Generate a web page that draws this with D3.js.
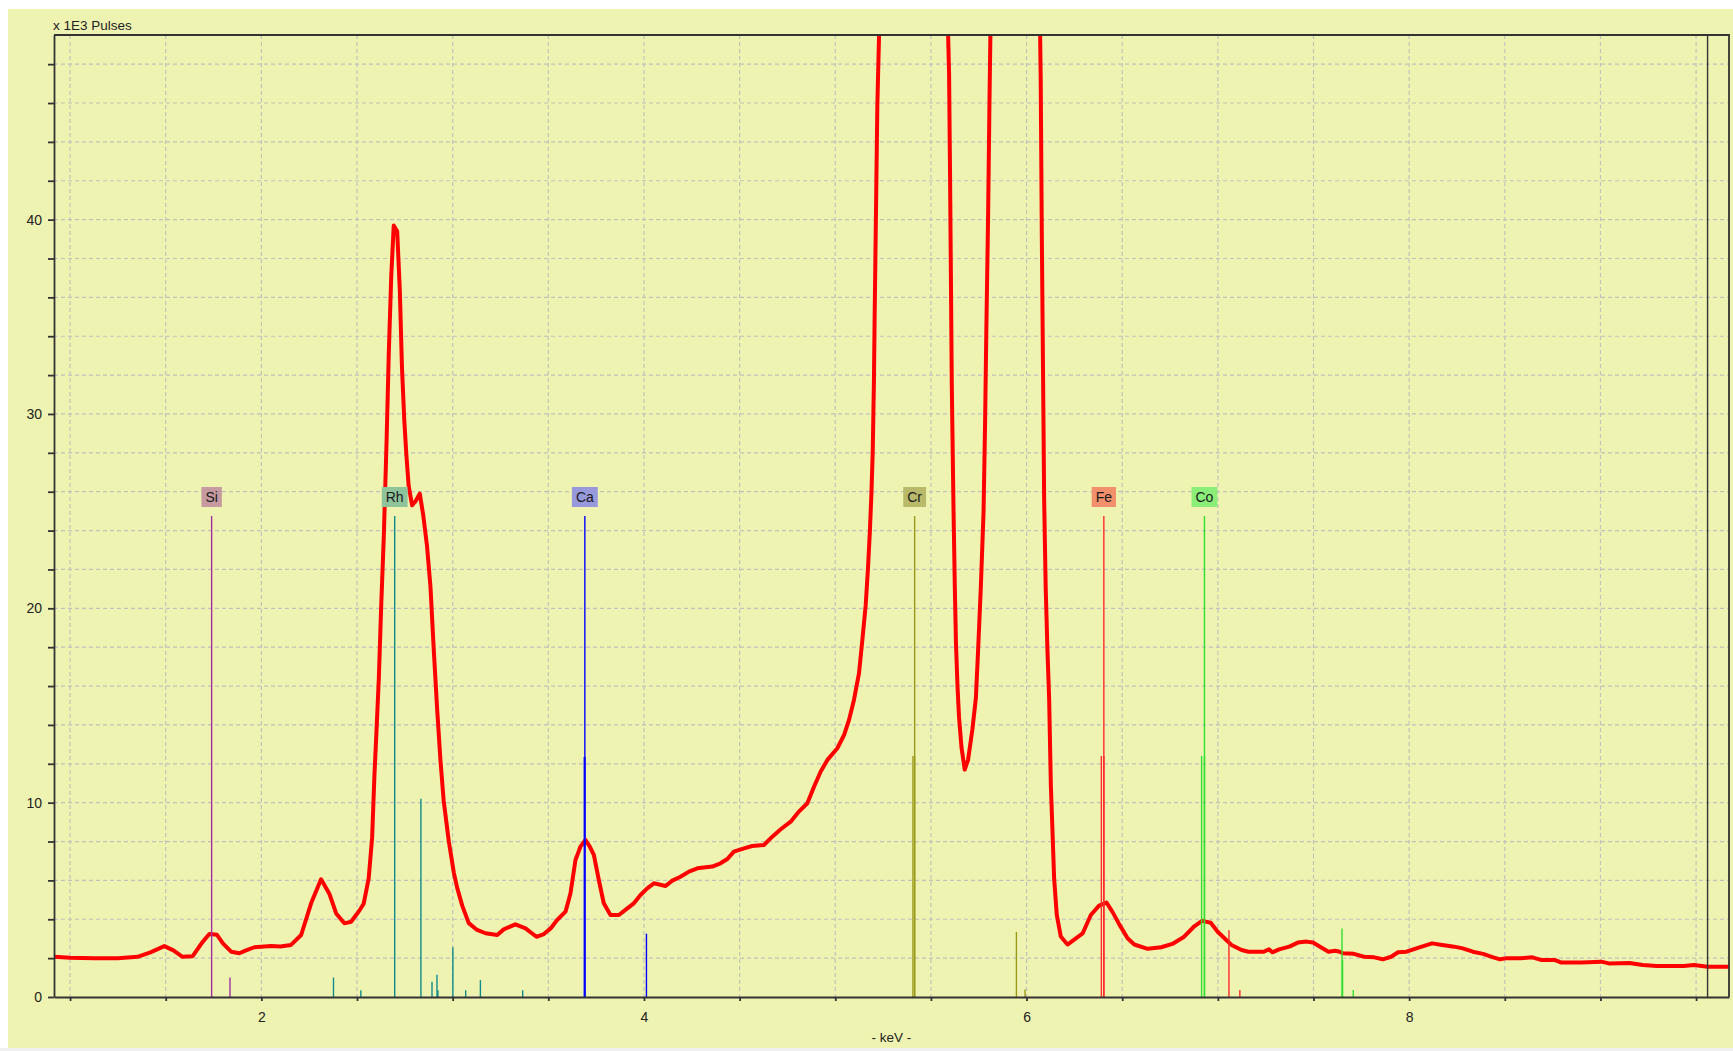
<!DOCTYPE html>
<html>
<head>
<meta charset="utf-8">
<script src="https://cdn.jsdelivr.net/npm/d3@7"></script>
<style>
  body { margin: 0; background: #fff; }
  text { font-family: "Liberation Sans", Arial, sans-serif; }
</style>
</head>
<body>
<svg class="chart"></svg>
<script>
// spectrum: energy in keV, pulses in thousands
var energy = [0.916, 1.00, 1.127, 1.25, 1.353, 1.42, 1.493, 1.54, 1.588, 1.641, 1.69, 1.728, 1.768, 1.80, 1.842, 1.885, 1.92, 1.963, 2.051, 2.10, 2.155, 2.208, 2.260, 2.312, 2.356, 2.391, 2.434, 2.469, 2.509, 2.535, 2.561, 2.579, 2.591, 2.601, 2.614, 2.626, 2.640, 2.654, 2.666, 2.679, 2.692, 2.710, 2.724, 2.735, 2.747, 2.758, 2.770, 2.788, 2.805, 2.828, 2.846, 2.866, 2.884, 2.901, 2.919, 2.936, 2.953, 2.980, 3.006, 3.024, 3.050, 3.084, 3.128, 3.172, 3.233, 3.267, 3.328, 3.381, 3.438, 3.477, 3.512, 3.546, 3.590, 3.616, 3.642, 3.668, 3.694, 3.717, 3.738, 3.764, 3.790, 3.825, 3.869, 3.913, 3.947, 3.982, 4.017, 4.052, 4.113, 4.148, 4.191, 4.235, 4.279, 4.357, 4.400, 4.436, 4.470, 4.523, 4.566, 4.627, 4.671, 4.715, 4.767, 4.810, 4.854, 4.889, 4.924, 4.959, 5.011, 5.046, 5.072, 5.098, 5.124, 5.142, 5.159, 5.171, 5.181, 5.189, 5.196, 5.202, 5.206, 5.213, 5.220, 5.229, 5.25, 5.30, 5.41, 5.52, 5.575, 5.590, 5.595, 5.600, 5.604, 5.609, 5.618, 5.625, 5.631, 5.639, 5.647, 5.660, 5.677, 5.694, 5.717, 5.735, 5.747, 5.761, 5.775, 5.783, 5.790, 5.799, 5.806, 5.811, 5.83, 5.88, 5.94, 6.01, 6.06, 6.071, 6.074, 6.080, 6.086, 6.092, 6.100, 6.109, 6.118, 6.127, 6.135, 6.144, 6.158, 6.179, 6.214, 6.249, 6.293, 6.336, 6.379, 6.418, 6.449, 6.484, 6.528, 6.563, 6.633, 6.704, 6.762, 6.82, 6.877, 6.917, 6.936, 6.963, 6.999, 7.044, 7.071, 7.124, 7.160, 7.240, 7.267, 7.285, 7.32, 7.374, 7.418, 7.463, 7.498, 7.534, 7.578, 7.614, 7.637, 7.654, 7.711, 7.764, 7.818, 7.862, 7.906, 7.942, 7.986, 8.022, 8.066, 8.12, 8.173, 8.235, 8.280, 8.333, 8.386, 8.440, 8.475, 8.511, 8.582, 8.644, 8.689, 8.760, 8.796, 8.902, 9.004, 9.044, 9.151, 9.222, 9.293, 9.435, 9.489, 9.560, 9.672];
var pulses = [2.07, 2.02, 1.99, 2.0, 2.07, 2.3, 2.62, 2.4, 2.07, 2.1, 2.8, 3.24, 3.2, 2.75, 2.33, 2.25, 2.4, 2.56, 2.62, 2.6, 2.68, 3.19, 4.82, 6.06, 5.3, 4.3, 3.79, 3.87, 4.4, 4.8, 6.1, 8.2, 11.4, 13.5, 16.4, 20.0, 23.7, 28.4, 33.1, 37.1, 39.7, 39.4, 36.3, 32.4, 29.7, 27.9, 26.3, 25.3, 25.5, 25.9, 24.8, 23.2, 21.1, 17.9, 14.8, 12.2, 10.1, 8.0, 6.4, 5.6, 4.7, 3.8, 3.45, 3.28, 3.19, 3.48, 3.74, 3.53, 3.1, 3.24, 3.53, 3.96, 4.39, 5.34, 7.05, 7.74, 8.08, 7.74, 7.31, 6.02, 4.82, 4.22, 4.22, 4.56, 4.82, 5.25, 5.59, 5.85, 5.71, 5.99, 6.19, 6.45, 6.62, 6.71, 6.88, 7.1, 7.48, 7.65, 7.77, 7.82, 8.25, 8.63, 9.02, 9.54, 9.97, 10.82, 11.6, 12.2, 12.8, 13.48, 14.26, 15.3, 16.65, 18.4, 20.15, 22.06, 23.97, 25.9, 28.1, 31.6, 35.1, 40.5, 45.9, 49.5, 62, 100, 140, 100, 62, 49.5, 47.5, 42.4, 37.7, 31.6, 25.2, 21.1, 18.2, 16.0, 14.4, 12.83, 11.7, 12.19, 13.78, 15.37, 17.9, 21.1, 24.9, 29.4, 34.5, 40.2, 45.9, 49.5, 65, 90, 100, 90, 62, 49.5, 47.2, 38.9, 32.3, 25.6, 21.1, 17.9, 15.37, 10.9, 8.68, 6.13, 4.22, 3.11, 2.7, 2.95, 3.27, 4.22, 4.7, 4.86, 4.38, 3.75, 3.02, 2.7, 2.48, 2.56, 2.73, 3.07, 3.64, 3.92, 3.88, 3.82, 3.36, 2.93, 2.68, 2.42, 2.33, 2.33, 2.45, 2.3, 2.45, 2.59, 2.8, 2.85, 2.8, 2.59, 2.33, 2.38, 2.33, 2.25, 2.22, 2.07, 2.04, 1.94, 2.07, 2.3, 2.33, 2.45, 2.59, 2.76, 2.68, 2.59, 2.5, 2.33, 2.22, 2.04, 1.94, 2.0, 2.0, 2.04, 1.91, 1.91, 1.77, 1.77, 1.82, 1.73, 1.75, 1.65, 1.6, 1.6, 1.65, 1.56, 1.56];

// element markers
var elements = ["Si", "Rh", "Ca", "Cr", "Fe", "Co"];
var elementKeV = [1.740, 2.697, 3.691, 5.415, 6.404, 6.930];
var markerLevel = 24.75;
var lineKeV = [
  [1.836],
  [2.377, 2.520, 2.834, 2.892, 2.918, 2.923, 3.001, 3.068, 3.145, 3.366],
  [3.6917, 3.6881, 4.013],
  [5.415, 5.406, 5.947, 5.992],
  [6.404, 6.391, 7.058, 7.115],
  [6.930, 6.915, 7.649, 7.652, 7.708]
];
var lineHeight = [
  [1.0],
  [1.0, 0.35, 10.2, 0.79, 1.15, 0.35, 2.56, 0.35, 0.87, 0.35],
  [12.35, 12.35, 3.26],
  [12.4, 12.4, 3.35, 0.38],
  [12.4, 12.4, 3.44, 0.36],
  [12.4, 12.4, 3.53, 1.9, 0.36]
];
var boxColors = ["#c59aa0", "#8fc49a", "#9898dc", "#b9b96b", "#f3906c", "#8aee78"];
var lineColors = ["#a030a0", "#108c8c", "#0000ff", "#9a9a1a", "#ff2a2a", "#30e030"];

var xTicks = d3.range(2, 20).map(d => d / 2);
var yTicks = d3.range(0, 50, 2);
var endKeV = 9.56;

var W = 1733, H = 1051;
var pL = 54, pR = 1729, pT = 35, pB = 997;

var x = d3.scaleLinear().domain([0.916, 9.672]).range([pL, pR]);
var y = d3.scaleLinear().domain([0, 49.5]).range([pB, pT]);

var svg = d3.select(".chart")
            .attr("width", W)
            .attr("height", H);

svg.append("rect")
   .attr("x", 8).attr("y", 9)
   .attr("width", W - 8).attr("height", 1039)
   .attr("fill", "#eff3b1");
svg.append("rect")
   .attr("x", 0).attr("y", 1048)
   .attr("width", W).attr("height", 3)
   .attr("fill", "#f0f0f0");

svg.append("clipPath").attr("id", "plot")
   .append("rect")
   .attr("x", pL).attr("y", pT)
   .attr("width", pR - pL).attr("height", pB - pT);

// dashed grid
var grid = svg.append("g")
              .attr("stroke", "#c2c2bc")
              .attr("stroke-width", 1.2)
              .attr("stroke-dasharray", "4,3");
grid.selectAll(".vg")
    .data(xTicks)
    .enter().append("line")
    .attr("x1", d => x(d)).attr("x2", d => x(d))
    .attr("y1", pT).attr("y2", pB);
grid.selectAll(".hg")
    .data(yTicks.filter(d => d > 0))
    .enter().append("line")
    .attr("x1", pL).attr("x2", pR)
    .attr("y1", d => y(d)).attr("y2", d => y(d));

// spectrum
var line = d3.line()
             .x((d, i) => x(energy[i]))
             .y(d => y(d));

svg.append("path")
   .datum(pulses)
   .attr("clip-path", "url(#plot)")
   .attr("fill", "none")
   .attr("stroke", "#ff0000")
   .attr("stroke-width", 4)
   .attr("stroke-linejoin", "round")
   .attr("d", line);

// element lines and labels
elements.forEach(function(el, k) {
  var g = svg.append("g");
  var lines = lineKeV[k].map((e, i) => [e, lineHeight[k][i]]);
  g.selectAll("line")
   .data(lines)
   .enter().append("line")
   .attr("x1", d => x(d[0])).attr("x2", d => x(d[0]))
   .attr("y1", y(0)).attr("y2", d => y(d[1]))
   .attr("stroke", lineColors[k])
   .attr("stroke-width", 1.4);
  g.append("line")
   .attr("x1", x(elementKeV[k])).attr("x2", x(elementKeV[k]))
   .attr("y1", y(0)).attr("y2", y(markerLevel))
   .attr("stroke", lineColors[k])
   .attr("stroke-width", 1.4);

  var lbl = g.append("g");
  var rect = lbl.append("rect").attr("fill", boxColors[k]);
  var t = lbl.append("text")
             .attr("x", x(elementKeV[k]))
             .attr("y", y(markerLevel) - 14)
             .attr("text-anchor", "middle")
             .attr("font-size", "14px")
             .attr("fill", "#1a1a1a")
             .text(el);
  var bw = t.node().getComputedTextLength() + 8;
  rect.attr("x", x(elementKeV[k]) - bw / 2)
      .attr("y", y(markerLevel) - 29)
      .attr("width", bw)
      .attr("height", 20);
});

// axes
var yAxis = d3.axisLeft(y)
              .tickValues(yTicks)
              .tickSize(6)
              .tickSizeOuter(0)
              .tickPadding(6)
              .tickFormat(d => d % 10 ? "" : d);
var xAxis = d3.axisBottom(x)
              .tickValues(xTicks)
              .tickSize(4)
              .tickSizeOuter(0)
              .tickPadding(11)
              .tickFormat(d => d % 2 ? "" : d);

var ya = svg.append("g")
            .attr("transform", "translate(" + pL + ",0)")
            .call(yAxis);
var xa = svg.append("g")
            .attr("transform", "translate(0," + pB + ")")
            .call(xAxis);

[ya, xa].forEach(function(a) {
  a.select(".domain").attr("stroke", "#333").attr("stroke-width", 1.8);
  a.selectAll(".tick line").attr("stroke", "#333").attr("stroke-width", 1.8);
  a.selectAll("text")
   .attr("font-family", "Liberation Sans, Arial, sans-serif")
   .attr("font-size", "14px")
   .attr("fill", "#222");
});

// frame
svg.append("path")
   .attr("d", "M" + pL + "," + pT + "H" + pR + "V" + pB)
   .attr("fill", "none")
   .attr("stroke", "#333")
   .attr("stroke-width", 1.8);
svg.append("line")
   .attr("x1", x(endKeV)).attr("x2", x(endKeV))
   .attr("y1", pT).attr("y2", pB)
   .attr("stroke", "#333")
   .attr("stroke-width", 1.4);

svg.append("text")
   .attr("x", 53)
   .attr("y", 29.5)
   .attr("font-size", "13.5px")
   .attr("fill", "#222")
   .text("x 1E3 Pulses");

svg.append("text")
   .attr("x", (pL + pR) / 2)
   .attr("y", 1042)
   .attr("text-anchor", "middle")
   .attr("font-size", "13.5px")
   .attr("fill", "#222")
   .text("- keV -");
</script>
</body>
</html>
